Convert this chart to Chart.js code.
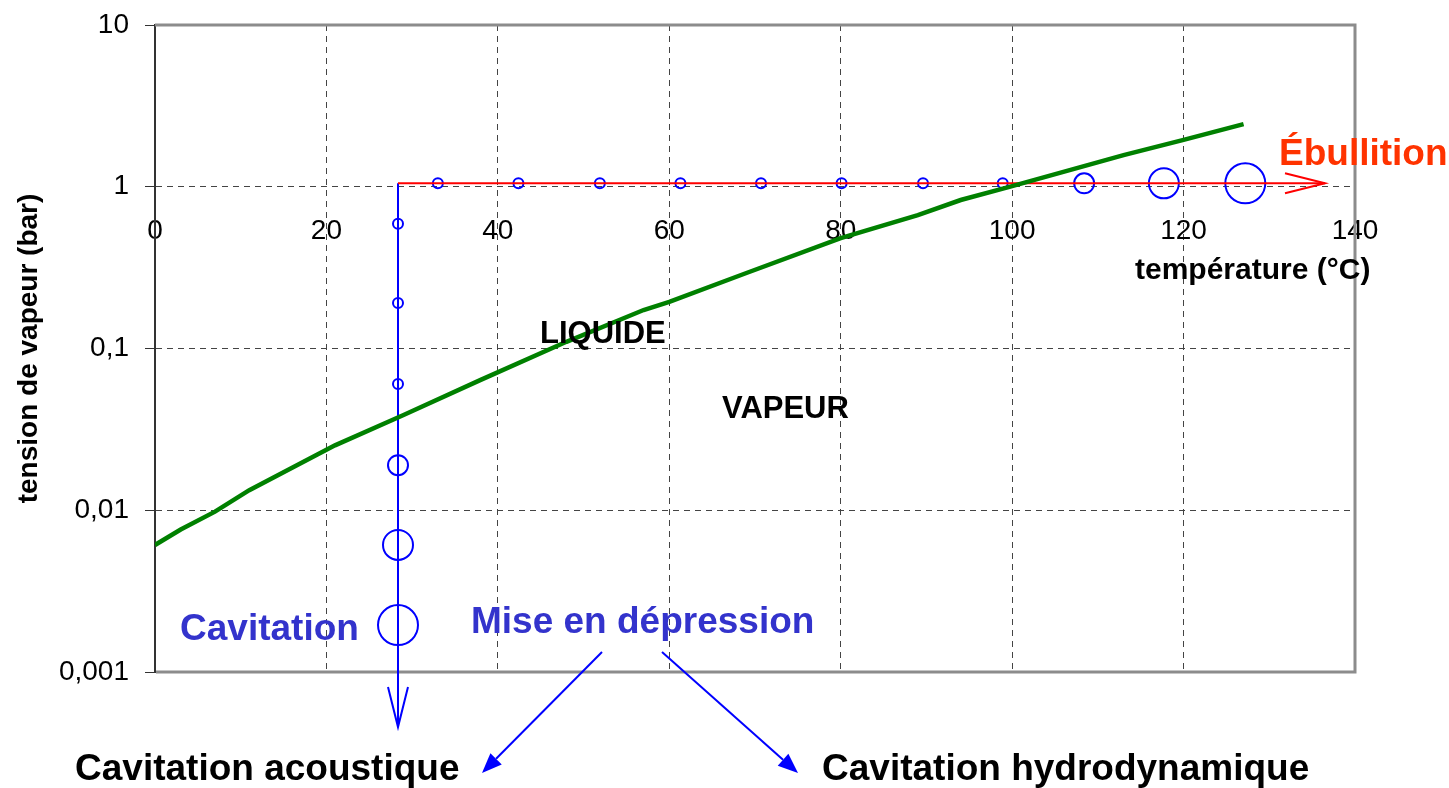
<!DOCTYPE html>
<html>
<head>
    <meta charset="utf-8">
    <script src="https://cdn.jsdelivr.net/npm/chart.js"></script>
    <title>Tension de vapeur</title>
    <style>
        * { margin: 0; padding: 0; }
        body { background: #fff; }
    </style>
</head>
<body>
<canvas id="chart" width="1449" height="788"></canvas>
<script>
    // courbe de tension de vapeur de l'eau
    const curveTemps = [0, 3, 7, 11, 19, 21, 29, 38, 48, 57, 60, 69, 80, 89, 94, 100, 113, 120, 127];
    const curvePressures = [0.0061, 0.0076, 0.0098, 0.0133, 0.0222, 0.0252, 0.0388, 0.064, 0.11, 0.173, 0.194, 0.293, 0.482, 0.668, 0.828, 1.01, 1.57, 1.95, 2.44];

    // chemin "ébullition" : chauffage à pression constante
    const boilTemps = [33.0, 42.4, 51.9, 61.3, 70.7, 80.1, 89.6, 98.9, 108.4, 117.7, 127.2];
    const boilRadius = [5, 5, 5, 5, 5, 5, 5, 5, 10, 15, 20];
    const boilPressure = 1.05;
    const boilLineEnd = 136.5;

    // chemin "cavitation" : mise en dépression à température constante
    const cavTemp = 28.35;
    const cavPressures = [0.59, 0.191, 0.0604, 0.019, 0.0061, 0.00195];
    const cavRadius = [5, 5, 5, 10, 15, 20];
    const cavLineEnd = 0.000457;

    const xTicks = [0, 20, 40, 60, 80, 100, 120, 140];
    const yTicks = [0.001, 0.01, 0.1, 1, 10];
    const yTickLabels = ['0,001', '0,01', '0,1', '1', '10'];

    const FONT = "'Liberation Sans', Arial, sans-serif";
    const BLUE = '#0000ff';

    function arrowOpen(ctx, tx, ty, dx, dy) {
        // open arrow head, (dx,dy) unit direction of the line
        const len = 40, half = 10;
        const bx = tx - dx * len, by = ty - dy * len;
        ctx.beginPath();
        ctx.moveTo(bx - dy * half, by + dx * half);
        ctx.lineTo(tx, ty);
        ctx.lineTo(bx + dy * half, by - dx * half);
        ctx.stroke();
    }

    function arrowFilled(ctx, x0, y0, x1, y1) {
        const ang = Math.atan2(y1 - y0, x1 - x0);
        const len = 20, half = 8;
        const bx = x1 - Math.cos(ang) * len, by = y1 - Math.sin(ang) * len;
        ctx.beginPath();
        ctx.moveTo(x0, y0);
        ctx.lineTo(bx, by);
        ctx.stroke();
        ctx.beginPath();
        ctx.moveTo(x1, y1);
        ctx.lineTo(bx - Math.sin(ang) * half, by + Math.cos(ang) * half);
        ctx.lineTo(bx + Math.sin(ang) * half, by - Math.cos(ang) * half);
        ctx.closePath();
        ctx.fill();
    }

    const decorations = {
        id: 'decorations',
        beforeDatasetsDraw(chart) {
            const ctx = chart.ctx, a = chart.chartArea;
            ctx.save();
            ctx.strokeStyle = '#8c8c8c';
            ctx.lineWidth = 3;
            ctx.beginPath();
            ctx.moveTo(a.left, a.top);
            ctx.lineTo(a.right, a.top);
            ctx.lineTo(a.right, a.bottom);
            ctx.lineTo(a.left + 1, a.bottom);
            ctx.stroke();
            ctx.restore();
        },
        afterDatasetsDraw(chart) {
            const ctx = chart.ctx;
            const xs = chart.scales.x, ys = chart.scales.y;
            ctx.save();
            ctx.lineWidth = 2;
            // flèche ébullition
            ctx.strokeStyle = '#ff0000';
            arrowOpen(ctx, xs.getPixelForValue(boilLineEnd), ys.getPixelForValue(boilPressure), 1, 0);
            // flèche cavitation
            ctx.strokeStyle = BLUE;
            arrowOpen(ctx, xs.getPixelForValue(cavTemp), ys.getPixelForValue(cavLineEnd), 0, 1);
            // flèches "mise en dépression"
            ctx.fillStyle = BLUE;
            ctx.lineWidth = 2;
            arrowFilled(ctx, 602, 652, 482, 773);
            arrowFilled(ctx, 662, 652, 798, 773);

            // textes
            ctx.textBaseline = 'alphabetic';
            ctx.textAlign = 'left';
            ctx.fillStyle = '#000';
            ctx.font = 'bold 31px ' + FONT;
            ctx.fillText('LIQUIDE', 540, 343);
            ctx.fillText('VAPEUR', 722, 418);
            ctx.font = 'bold 30px ' + FONT;
            ctx.fillText('température (°C)', 1135, 279);
            ctx.font = 'bold 37px ' + FONT;
            ctx.fillText('Cavitation acoustique', 75, 780);
            ctx.fillText('Cavitation hydrodynamique', 822, 780);
            ctx.fillStyle = '#3333cc';
            ctx.fillText('Cavitation', 180, 640);
            ctx.fillText('Mise en dépression', 471, 633);
            ctx.fillStyle = '#ff3300';
            ctx.fillText('Ébullition', 1279, 165);
            ctx.restore();
        }
    };

    const data = {
        datasets: [{
            label: 'tension de vapeur',
            data: curveTemps.map((t, i) => ({ x: t, y: curvePressures[i] })),
            borderColor: '#008000',
            borderWidth: 4.5,
            pointRadius: 0,
            tension: 0
        }, {
            label: 'ébullition',
            data: [{ x: cavTemp, y: boilPressure }, { x: boilLineEnd, y: boilPressure }],
            borderColor: '#ff0000',
            borderWidth: 2,
            pointRadius: 0
        }, {
            label: 'cavitation',
            data: [{ x: cavTemp, y: boilPressure }, { x: cavTemp, y: cavLineEnd }],
            borderColor: BLUE,
            borderWidth: 2,
            pointRadius: 0,
            clip: false
        }, {
            label: 'chauffage',
            data: boilTemps.map(t => ({ x: t, y: boilPressure })),
            showLine: false,
            pointRadius: boilRadius,
            pointBorderColor: BLUE,
            pointBackgroundColor: 'rgba(0,0,0,0)',
            pointBorderWidth: 2
        }, {
            label: 'dépression',
            data: cavPressures.map(p => ({ x: cavTemp, y: p })),
            showLine: false,
            pointRadius: cavRadius,
            pointBorderColor: BLUE,
            pointBackgroundColor: 'rgba(0,0,0,0)',
            pointBorderWidth: 2
        }]
    };

    const config = {
        type: 'line',
        data,
        options: {
            responsive: false,
            animation: false,
            layout: { padding: { top: 25, right: 94, bottom: 116, left: 0 } },
            plugins: { legend: { display: false }, tooltip: { enabled: false } },
            scales: {
                x: {
                    type: 'linear',
                    min: 0,
                    max: 140,
                    position: { y: 1 },
                    afterBuildTicks: (scale) => { scale.ticks = xTicks.map(v => ({ value: v })); },
                    ticks: {
                        color: '#000',
                        font: { family: FONT, size: 28 },
                        padding: 28,
                        maxRotation: 0
                    },
                    grid: { color: '#444', lineWidth: 1, drawTicks: false },
                    border: { display: false, dash: [6, 5] }
                },
                y: {
                    type: 'logarithmic',
                    min: 0.001,
                    max: 10,
                    afterBuildTicks: (scale) => { scale.ticks = yTicks.map(v => ({ value: v })); },
                    afterFit: (scale) => { scale.width = 155; },
                    ticks: {
                        color: '#000',
                        font: { family: FONT, size: 28, lineHeight: 0.5 },
                        padding: 16,
                        callback: (v) => yTickLabels[yTicks.indexOf(v)]
                    },
                    grid: {
                        color: '#444',
                        lineWidth: 1,
                        tickLength: 10,
                        tickColor: '#333',
                        tickBorderDash: []
                    },
                    border: { display: true, color: '#333', width: 2, dash: [6, 5] },
                    title: {
                        display: true,
                        text: 'tension de vapeur (bar)',
                        color: '#000',
                        font: { family: FONT, size: 28, weight: 'bold' },
                        padding: { top: 12, bottom: 0 }
                    }
                }
            }
        },
        plugins: [decorations]
    };

    const chart = new Chart(document.getElementById('chart'), config);
</script>
</body>
</html>
